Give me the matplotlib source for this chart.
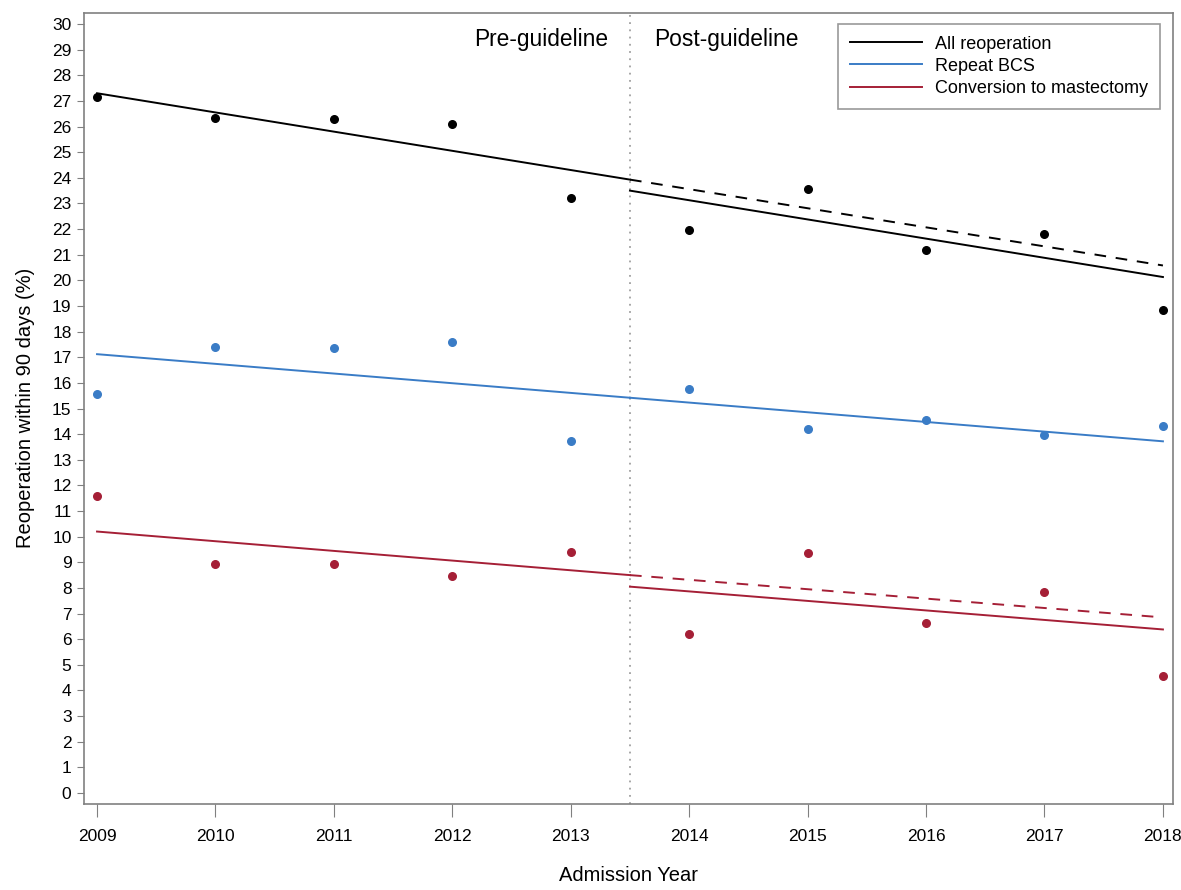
import matplotlib.pyplot as plt

plt.rcParams['font.family'] = ['Liberation Sans', 'DejaVu Sans']

years = [2009, 2010, 2011, 2012, 2013, 2014, 2015, 2016, 2017, 2018]
all_reop = [27.15, 26.35, 26.3, 26.1, 23.2, 21.95, 23.55, 21.2, 21.8, 18.85]
repeat_bcs = [15.55, 17.4, 17.35, 17.6, 13.75, 15.75, 14.2, 14.55, 13.95, 14.3]
conversion = [11.6, 8.95, 8.95, 8.45, 9.4, 6.2, 9.35, 6.65, 7.85, 4.55]

# fitted segmented trends: value at start and end of each segment
cut = 2013.5
pre_x = [2009, cut]
post_x = [cut, 2018]
all_pre = [27.3, 23.93]
all_post = [23.5, 20.13]
all_cf = [23.93, 20.58]
bcs_pre = [17.12, 15.42]
bcs_post = [15.42, 13.72]
conv_pre = [10.2, 8.5]
conv_post = [8.05, 6.38]
conv_cf = [8.5, 6.85]

BLACK = '#000000'
BLUE = '#3a7cc6'
RED = '#a51f36'
GRAY = '#808080'

fig = plt.figure(figsize=(11.81, 8.9), dpi=100)
ax = fig.add_axes([84 / 1181, 1 - 804 / 890, 1089 / 1181, 791.5 / 890])

ax.axvline(cut, color='#a0a0a0', lw=1.3, ls=(0, (1, 3)))

ax.plot(pre_x, all_pre, color=BLACK, lw=1.4, label='All reoperation')
ax.plot(post_x, all_post, color=BLACK, lw=1.4)
ax.plot(post_x, all_cf, color=BLACK, lw=1.4, ls=(0, (6, 5)))

ax.plot(pre_x, bcs_pre, color=BLUE, lw=1.4, label='Repeat BCS')
ax.plot(post_x, bcs_post, color=BLUE, lw=1.4)

ax.plot(pre_x, conv_pre, color=RED, lw=1.4, label='Conversion to mastectomy')
ax.plot(post_x, conv_post, color=RED, lw=1.4)
ax.plot(post_x, conv_cf, color=RED, lw=1.4, ls=(0, (6, 5)))

ax.scatter(years, all_reop, s=30, color=BLACK, zorder=3)
ax.scatter(years, repeat_bcs, s=30, color=BLUE, zorder=3)
ax.scatter(years, conversion, s=30, color=RED, zorder=3)

ax.set_xlim(2008.89, 2018.085)
ax.set_ylim(-0.43, 30.45)
ax.set_xticks(years)
ax.set_yticks(range(0, 31))
ax.tick_params(axis='x', length=9, color=GRAY, labelsize=12.5, pad=9)
ax.tick_params(axis='y', length=5, color=GRAY, labelsize=12.5, pad=4)
for sp in ax.spines.values():
    sp.set_color(GRAY)
    sp.set_linewidth(1.2)

ax.set_xlabel('Admission Year', fontsize=14.5, labelpad=16)
ax.set_ylabel('Reoperation within 90 days (%)', fontsize=14.5, labelpad=12)

ax.text(2013.32, 29.38, 'Pre-guideline', fontsize=16.4, ha='right', va='center')
ax.text(2013.70, 29.38, 'Post-guideline', fontsize=16.4, ha='left', va='center')

leg = ax.legend(loc='upper right', fontsize=13, frameon=True, fancybox=False,
                edgecolor=GRAY, handlelength=4.0, handletextpad=0.72,
                borderpad=0.65, labelspacing=0.28, borderaxespad=0,
                bbox_to_anchor=(0.988, 0.9855))
leg.get_frame().set_linewidth(1.2)

fig.savefig('out.png', dpi=100)
